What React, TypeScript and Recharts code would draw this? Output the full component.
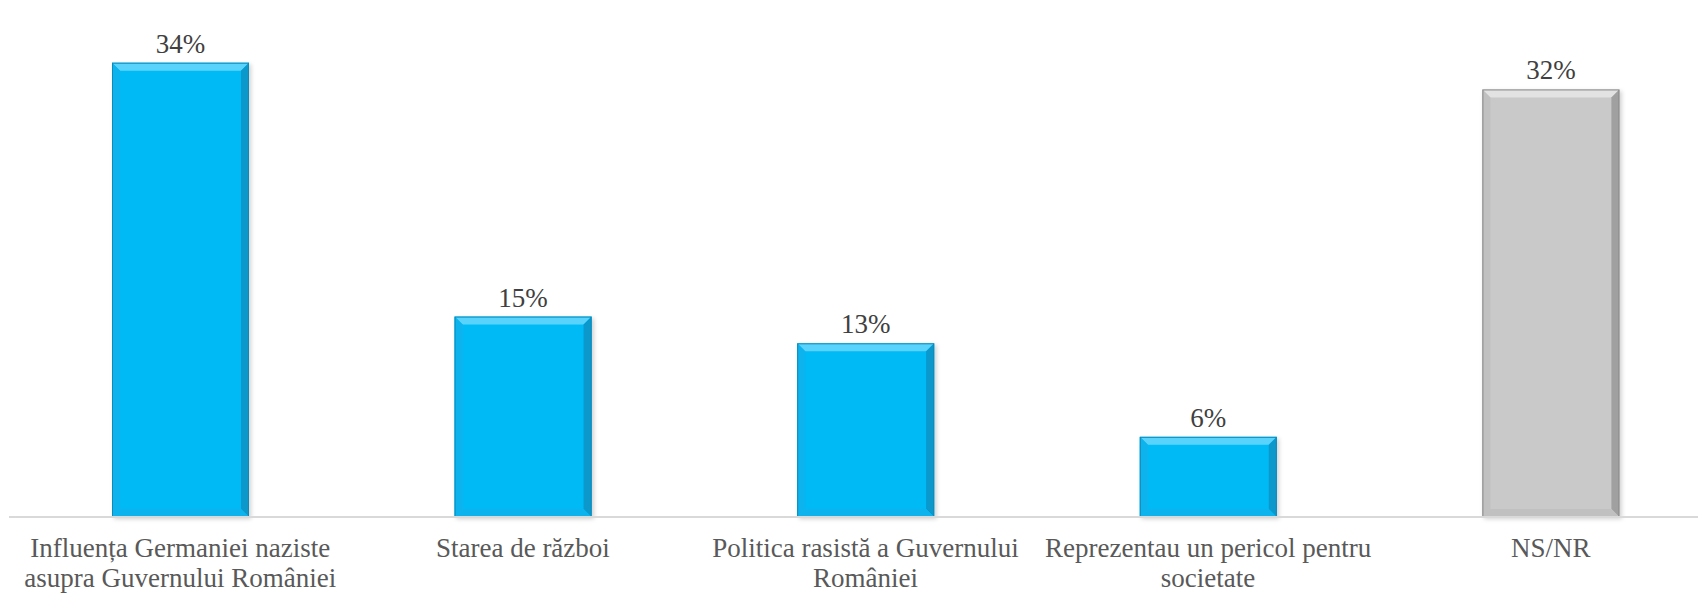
import React from "react";
import { BarChart, Bar, XAxis, YAxis, Cell, LabelList } from "recharts";

const categories: string[] = [
  "Influența Germaniei naziste asupra Guvernului României",
  "Starea de război",
  "Politica rasistă a Guvernului României",
  "Reprezentau un pericol pentru societate",
  "NS/NR",
];
const tickLines: string[][] = [
  ["Influența Germaniei naziste", "asupra Guvernului României"],
  ["Starea de război"],
  ["Politica rasistă a Guvernului", "României"],
  ["Reprezentau un pericol pentru", "societate"],
  ["NS/NR"],
];
const values: number[] = [34, 15, 13, 6, 32];
const kinds: string[] = ["answer", "answer", "answer", "answer", "unknown"];

const data = categories.map((c, i) => ({ name: c, value: values[i], kind: kinds[i], idx: i }));

const FONT = "'Liberation Serif', 'DejaVu Serif', serif";

const palette: Record<string, { base: string; top: string; side: string; dark: string; edge: string }> = {
  answer: { base: "#05BAF6", top: "#5AD3FC", side: "#0AB3EC", dark: "#0798CC", edge: "#0A8ABA" },
  unknown: { base: "#C9C9C9", top: "#E2E2E2", side: "#C0C0C0", dark: "#A0A0A0", edge: "#8A8A8A" },
};

const BevelBar = (props: any) => {
  const { x, y, width: w, height: h, payload } = props;
  if (!w || !h) return null;
  const p = palette[payload.kind];
  const b = Math.min(8, h / 3, w / 3);
  return (
    <g filter="url(#barShadow)">
      <rect x={x} y={y} width={w} height={h} fill={p.base} />
      <polygon points={`${x},${y} ${x + w},${y} ${x + w - b},${y + b} ${x + b},${y + b}`} fill={p.top} />
      <polygon points={`${x},${y} ${x + b},${y + b} ${x + b},${y + h - b} ${x},${y + h}`} fill={p.side} />
      <polygon points={`${x + w},${y} ${x + w - b},${y + b} ${x + w - b},${y + h - b} ${x + w},${y + h}`} fill={p.dark} />
      <polygon points={`${x},${y + h} ${x + b},${y + h - b} ${x + w - b},${y + h - b} ${x + w},${y + h}`} fill={p.side} />
      <rect x={x + 0.5} y={y + 0.5} width={w - 1} height={h - 1} fill="none" stroke={p.edge} strokeWidth={1} />
    </g>
  );
};

const CategoryTick = (props: any) => {
  const { x, payload } = props;
  const lines = tickLines[payload.index] || [payload.value];
  return (
    <text x={x} y={557} textAnchor="middle" fontFamily={FONT} fontSize={27} fill="#595959">
      {lines.map((l, i) => (
        <tspan key={i} x={x} y={557 + i * 30}>
          {l}
        </tspan>
      ))}
    </text>
  );
};

const ValueLabel = (props: any) => {
  const { x, y, width, value } = props;
  return (
    <text x={x + width / 2} y={y - 10} textAnchor="middle" fontFamily={FONT} fontSize={27} fill="#404040">
      {`${value}%`}
    </text>
  );
};

export default function App() {
  return (
    <div style={{ position: "fixed", left: 0, top: 0, width: 1698, height: 595, overflow: "hidden", background: "#fff" }}>
      <BarChart
        width={1722}
        height={595}
        data={data}
        margin={{ top: 36, right: 0, bottom: 0, left: 9 }}
        barSize={137}
      >
        <defs>
          <filter id="barShadow" x="-10%" y="-10%" width="130%" height="130%">
            <feDropShadow dx="2" dy="2" stdDeviation="2" floodColor="#000" floodOpacity="0.18" />
          </filter>
        </defs>
        <YAxis hide domain={[0, 36]} />
        <XAxis
          dataKey="name"
          height={78}
          tickLine={false}
          axisLine={{ stroke: "#D9D9D9", strokeWidth: 2 }}
          tick={<CategoryTick />}
          interval={0}
        />
        <Bar dataKey="value" shape={<BevelBar />} isAnimationActive={false}>
          {data.map((d, i) => (
            <Cell key={i} fill={palette[d.kind].base} />
          ))}
          <LabelList dataKey="value" content={<ValueLabel />} />
        </Bar>
      </BarChart>
    </div>
  );
}
